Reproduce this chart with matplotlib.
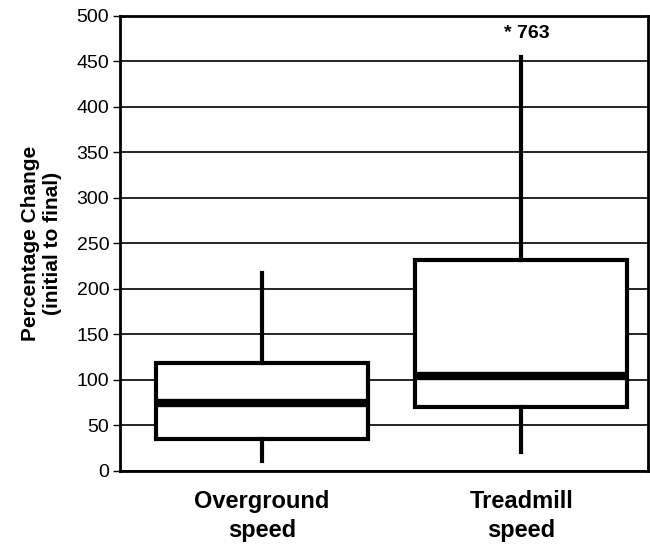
import matplotlib.pyplot as plt

plt.rcParams["font.family"] = ["Liberation Sans", "DejaVu Sans"]

categories = ["Overground\nspeed", "Treadmill\nspeed"]
whisker_low = [11, 21]
q1 = [35, 70]
median = [74, 104]
q3 = [119, 232]
whisker_high = [217, 455]
outlier_label = "* 763"


def main() -> None:
    fig = plt.figure(figsize=(6.5, 5.5), dpi=100)
    ax = fig.add_axes([0.185, 0.144, 0.812, 0.827])

    stats = []
    for i, name in enumerate(categories):
        stats.append({
            "label": name,
            "whislo": whisker_low[i],
            "q1": q1[i],
            "med": median[i],
            "q3": q3[i],
            "whishi": whisker_high[i],
            "fliers": [],
        })
    ax.bxp(stats, positions=[1, 2], widths=0.82, showcaps=False, showfliers=False,
           patch_artist=True,
           boxprops=dict(facecolor="white", edgecolor="black", linewidth=3),
           medianprops=dict(color="black", linewidth=6, solid_capstyle="butt"),
           whiskerprops=dict(color="black", linewidth=3))

    ax.text(2.02, 481, outlier_label, ha="center", va="center",
            fontsize=14, fontweight="bold")

    ax.set_xlim(0.452, 2.49)
    ax.set_ylim(0, 500)
    ax.set_yticks(range(0, 501, 50))
    ax.yaxis.grid(True, color="black", linewidth=1.2)
    ax.set_axisbelow(True)
    for s in ax.spines.values():
        s.set_linewidth(2)
    ax.tick_params(axis="y", labelsize=14, length=5, width=1, pad=3)
    ax.tick_params(axis="x", length=0, labelsize=17, pad=14)
    for lbl in ax.get_xticklabels():
        lbl.set_fontweight("bold")
        lbl.set_linespacing(1.3)
    ax.set_ylabel("Percentage Change\n(initial to final)", fontsize=15,
                  fontweight="bold", labelpad=10)

    fig.savefig("out.png", dpi=100)
    plt.close(fig)


if __name__ == "__main__":
    main()
